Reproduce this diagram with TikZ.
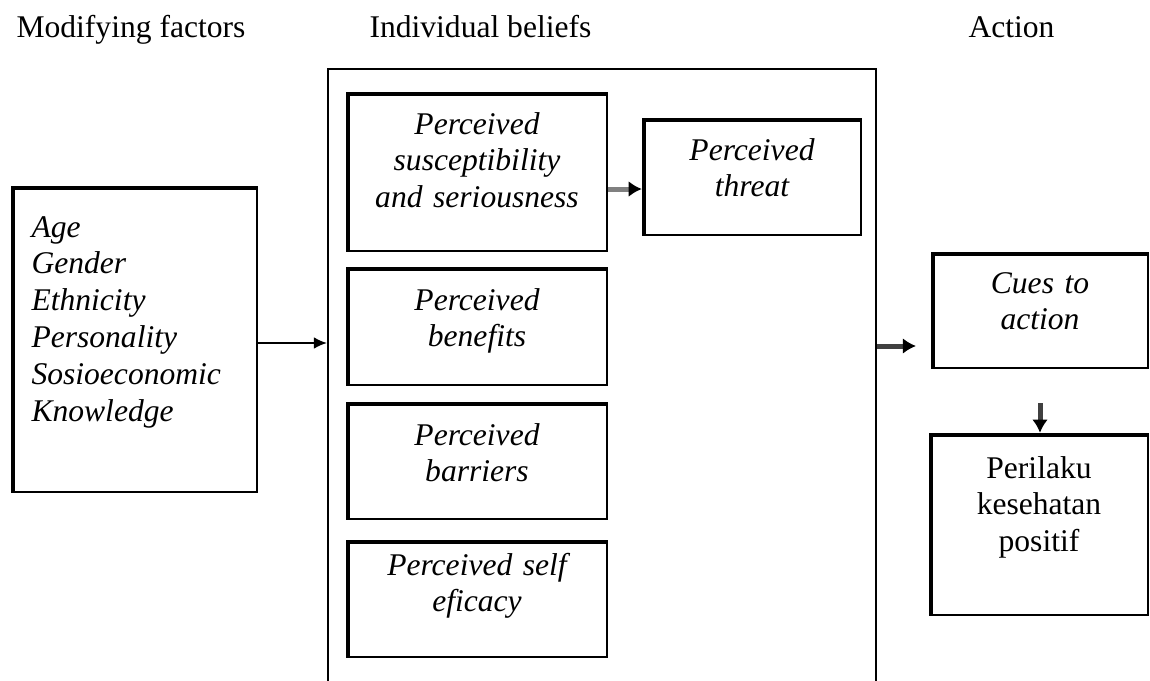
\documentclass[tikz,border=0pt]{standalone}
\usepackage{fontspec}
\setmainfont{Liberation Serif}
\usetikzlibrary{arrows.meta}

\begin{document}
\begin{tikzpicture}[x=0.38pt, y=-0.38pt, font=\fontsize{12}{14}\selectfont,
    head/.style = {anchor=base west, inner sep=0pt},
    frame/.style = {draw, line width=0.8pt},
    box/.style = {draw, line width=0.9pt, inner sep=0pt, path picture={\draw[line width=2.4pt] (path picture bounding box.south west) |- (path picture bounding box.north east);}},
    txt/.style = {anchor=base, align=center, text width=95pt, inner sep=0pt, font=\fontsize{12}{14}\selectfont\itshape},
    arr/.style = {-{Latex[length=5pt, width=4.5pt, black]}, line width=0.8pt},
    fat/.style = {-{Latex[length=5pt, width=6pt, black]}, line width=1.9pt}]
    \useasboundingbox (0,0) rectangle (1150,680);
    \node[head] (h1) at (16,37) {Modifying factors};
    \node[head] (h2) at (369,37) {Individual beliefs};
    \node[head] (h3) at (968,37) {Action};
    \node[frame, minimum width=208.2pt, minimum height=239.8pt] (big) at (602,384.5) {};
    \node[box, minimum width=93.1pt, minimum height=115.9pt] (mods) at (134.5,339.5) {};
    \node[box, minimum width=98.8pt, minimum height=60pt] (sus) at (477,172) {};
    \node[box, minimum width=82.8pt, minimum height=44.1pt] (threat) at (752,177) {};
    \node[box, minimum width=98.8pt, minimum height=44.5pt] (ben) at (477,326.5) {};
    \node[box, minimum width=98.8pt, minimum height=44.1pt] (bar) at (477,461) {};
    \node[box, minimum width=98.8pt, minimum height=44.1pt] (eff) at (477,599) {};
    \node[box, minimum width=82.1pt, minimum height=43.7pt] (cues) at (1040,310.5) {};
    \node[box, minimum width=82.8pt, minimum height=68.8pt] (peri) at (1039,524.5) {};
    \node[txt, align=left, text width=85pt, anchor=base west] (modstxt) at (31,237) {Age\\Gender\\Ethnicity\\Personality\\Sosioeconomic\\Knowledge};
    \node[txt] (sustxt) at (477,134) {Perceived\\susceptibility\\and seriousness};
    \node[txt] (threattxt) at (752,160) {Perceived\\threat};
    \node[txt] (bentxt) at (477,310) {Perceived\\benefits};
    \node[txt] (bartxt) at (477,445) {Perceived\\barriers};
    \node[txt] (efftxt) at (477,575) {Perceived self\\eficacy};
    \node[txt] (cuestxt) at (1040,293) {Cues to\\action};
    \node[txt, font=\fontsize{12}{14}\selectfont] (peritxt) at (1039,478) {Perilaku\\kesehatan\\positif};
    \coordinate (m) at (0,343);
    \coordinate (t) at (0,189);
    \coordinate (cuesin) at (916,346);
    \draw[arr] (mods.east |- m) -- (big.west |- m);
    \draw[fat, draw=gray] (sus.east |- t) -- (threat.west |- t);
    \draw[fat, draw=darkgray] (big.east |- cuesin) -- (cuesin);
    \draw[fat, draw=darkgray, shorten <=12.9pt] (cues.south) -- (cues.south |- peri.north);
\end{tikzpicture}
\end{document}
